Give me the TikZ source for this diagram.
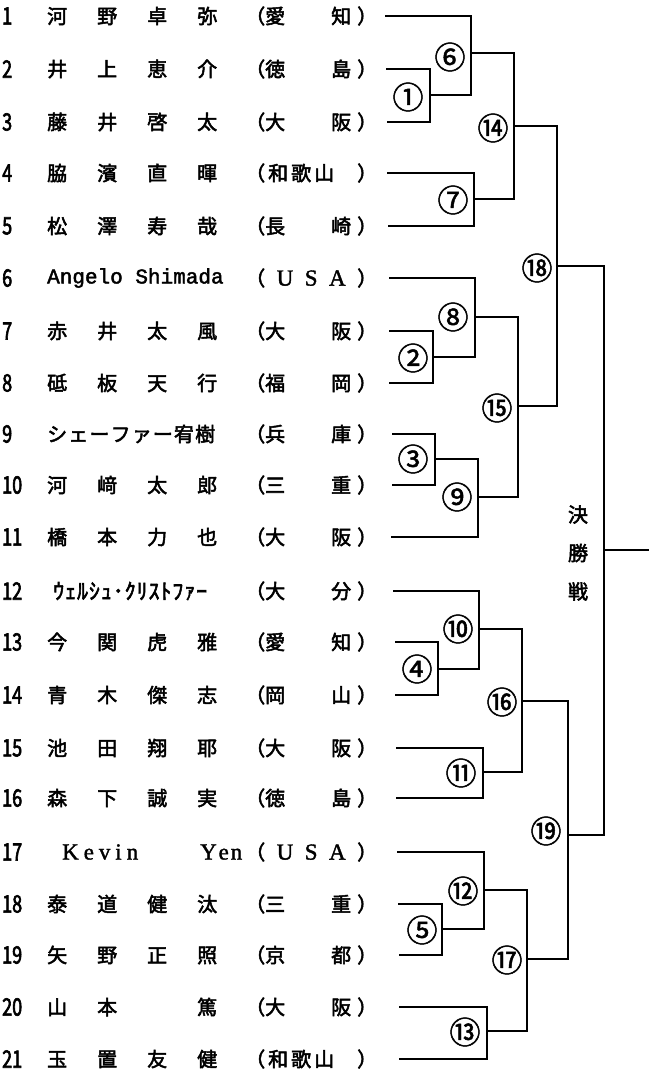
\documentclass[tikz,border=0pt]{standalone}
\usepackage{fontspec}
\setmainfont{Noto Sans CJK JP}[FakeBold=2.5]
\newfontfamily\lserif{Liberation Serif}[FakeBold=1.5]
\newfontfamily\lmono{Liberation Mono}[FakeBold=2]
\newfontfamily\numfnt{Noto Sans CJK JP}[FakeStretch=0.75,FakeBold=2.5]
\newfontfamily\lblfnt{Noto Sans CJK JP}[FakeBold=1.5]
\newcommand\nmfour[4]{\hbox to 170pt{#1\hfil #2\hfil #3\hfil #4}}
\newcommand\prtwo[2]{\hbox to 132pt{（#1\hfil #2\kern6pt）}}
\newcommand\prthree[3]{\hbox to 132pt{（\kern3pt #1\kern3pt #2\kern3pt #3\hfil）}}
\newcommand\usal[1]{{\lserif\fontsize{23}{24}\selectfont #1}}
\newcommand\prusa{\hbox to 132pt{（\hfil\usal{U}\hfil\usal{S}\hfil\usal{A}\hfil）}}
\tikzset{
  num/.style={anchor=west, inner sep=0pt, font=\numfnt\fontsize{24}{28}\selectfont},
  nm/.style={anchor=west, inner sep=0pt, font=\fontsize{20}{24}\selectfont},
  pref/.style={anchor=west, inner sep=0pt, font=\fontsize{20}{24}\selectfont},
  lbl/.style={inner sep=0pt, font=\lblfnt\fontsize{31}{34}\selectfont},
  br/.style={line width=1.3pt, line cap=rect},
}
\newcommand\entry[5]{%
  \node[num] (n#1) at (2,#2) {#1};
  \node[nm] (a#1) at (47,#2) {#3};
  \node[pref] (p#1) at (245,#2) {#4};
  \coordinate (s#1) at (#5,#2);
}
\begin{document}
\begin{tikzpicture}[x=1pt,y=-1pt]
\fill[white] (0,0) rectangle (652,1077);
\useasboundingbox (0,0) rectangle (652,1077);
% entrants
\entry{1}{16}{\nmfour{河}{野}{卓}{弥}}{\prtwo{愛}{知}}{386}
\entry{2}{69}{\nmfour{井}{上}{恵}{介}}{\prtwo{徳}{島}}{387}
\entry{3}{122}{\nmfour{藤}{井}{啓}{太}}{\prtwo{大}{阪}}{388}
\entry{4}{173}{\nmfour{脇}{濱}{直}{暉}}{\prthree{和}{歌}{山}}{388}
\entry{5}{226}{\nmfour{松}{澤}{寿}{哉}}{\prtwo{長}{崎}}{389}
\entry{6}{278}{{\lmono\fontsize{21}{24}\selectfont Angelo Shimada}}{\prusa}{390}
\entry{7}{331}{\nmfour{赤}{井}{太}{風}}{\prtwo{大}{阪}}{390}
\entry{8}{383}{\nmfour{砥}{板}{天}{行}}{\prtwo{福}{岡}}{390}
\entry{9}{434}{\hbox to 168pt{シ\hfil ェ\hfil ー\hfil フ\hfil ァ\hfil ー\hfil 宥\hfil 樹}}{\prtwo{兵}{庫}}{393}
\entry{10}{485}{\nmfour{河}{﨑}{太}{郎}}{\prtwo{三}{重}}{393}
\entry{11}{537}{\nmfour{橋}{本}{力}{也}}{\prtwo{大}{阪}}{392}
\entry{12}{591}{{\fontsize{22}{24}\selectfont\hbox to 160pt{\kern6pt ｳ\hfil ｪ\hfil ﾙ\hfil ｼ\hfil ｭ\hfil ･\hfil ｸ\hfil ﾘ\hfil ｽ\hfil ﾄ\hfil ﾌ\hfil ｧ\hfil ｰ}}}{\prtwo{大}{分}}{394}
\entry{13}{642}{\nmfour{今}{関}{虎}{雅}}{\prtwo{愛}{知}}{396}
\entry{14}{695}{\nmfour{青}{木}{傑}{志}}{\prtwo{岡}{山}}{396}
\entry{15}{748}{\nmfour{池}{田}{翔}{耶}}{\prtwo{大}{阪}}{397}
\entry{16}{798}{\nmfour{森}{下}{誠}{実}}{\prtwo{徳}{島}}{397}
\entry{17}{852}{{\lserif\fontsize{23}{24}\selectfont\kern15pt\hbox to 76pt{K\hfil e\hfil v\hfil i\hfil n}\kern62pt\hbox to 42pt{Y\hfil e\hfil n}}}{\prusa}{398}
\entry{18}{904}{\nmfour{泰}{道}{健}{汰}}{\prtwo{三}{重}}{399}
\entry{19}{955}{\nmfour{矢}{野}{正}{照}}{\prtwo{京}{都}}{400}
\entry{20}{1007}{\nmfour{山}{本}{　}{篤}}{\prtwo{大}{阪}}{400}
\entry{21}{1059}{\nmfour{玉}{置}{友}{健}}{\prthree{和}{歌}{山}}{400}
% match points
\coordinate (M1) at (430,95);
\coordinate (M6) at (471,53);
\coordinate (M7) at (474,199);
\coordinate (M14) at (514,126);
\coordinate (M2) at (433,357);
\coordinate (M8) at (475,317);
\coordinate (M3) at (435,459);
\coordinate (M9) at (478,497);
\coordinate (M15) at (518,406);
\coordinate (M18) at (557,266);
\coordinate (M4) at (438,669);
\coordinate (M10) at (479,629);
\coordinate (M11) at (483,772);
\coordinate (M16) at (522,701);
\coordinate (M5) at (442,929);
\coordinate (M12) at (484,890);
\coordinate (M13) at (487,1031);
\coordinate (M17) at (527,959);
\coordinate (M19) at (568,835);
\coordinate (F) at (604,550);
\coordinate (fin) at (648,550);
% bracket lines
\draw[br] (s2) -| (M1) |- (s3);
\draw[br] (s1) -| (M6) |- (M1);
\draw[br] (s4) -| (M7) |- (s5);
\draw[br] (M6) -| (M14) |- (M7);
\draw[br] (s7) -| (M2) |- (s8);
\draw[br] (s6) -| (M8) |- (M2);
\draw[br] (s9) -| (M3) |- (s10);
\draw[br] (M3) -| (M9) |- (s11);
\draw[br] (M8) -| (M15) |- (M9);
\draw[br] (M14) -| (M18) |- (M15);
\draw[br] (s13) -| (M4) |- (s14);
\draw[br] (s12) -| (M10) |- (M4);
\draw[br] (s15) -| (M11) |- (s16);
\draw[br] (M10) -| (M16) |- (M11);
\draw[br] (s18) -| (M5) |- (s19);
\draw[br] (s17) -| (M12) |- (M5);
\draw[br] (s20) -| (M13) |- (s21);
\draw[br] (M12) -| (M17) |- (M13);
\draw[br] (M16) -| (M19) |- (M17);
\draw[br] (M18) -| (F) |- (M19);
\draw[br] (F) -- (fin);
% match labels
\node[lbl] (L1) at (408,97) {①};
\node[lbl] (L2) at (413,358) {②};
\node[lbl] (L3) at (413,459) {③};
\node[lbl] (L4) at (417,669) {④};
\node[lbl] (L5) at (422,930) {⑤};
\node[lbl] (L6) at (450,57) {⑥};
\node[lbl] (L7) at (453,200) {⑦};
\node[lbl] (L8) at (453,317) {⑧};
\node[lbl] (L9) at (457,497) {⑨};
\node[lbl] (L10) at (458,629) {⑩};
\node[lbl] (L11) at (461,773) {⑪};
\node[lbl] (L12) at (463,891) {⑫};
\node[lbl] (L13) at (465,1032) {⑬};
\node[lbl] (L14) at (493,128) {⑭};
\node[lbl] (L15) at (497,408) {⑮};
\node[lbl] (L16) at (502,702) {⑯};
\node[lbl] (L17) at (507,960) {⑰};
\node[lbl] (L18) at (537,268) {⑱};
\node[lbl] (L19) at (546,831) {⑲};
\node[inner sep=0pt, align=center, font=\fontsize{20}{38.5}\selectfont] (final) at (578,553) {決\\勝\\戦};
\end{tikzpicture}
\end{document}
